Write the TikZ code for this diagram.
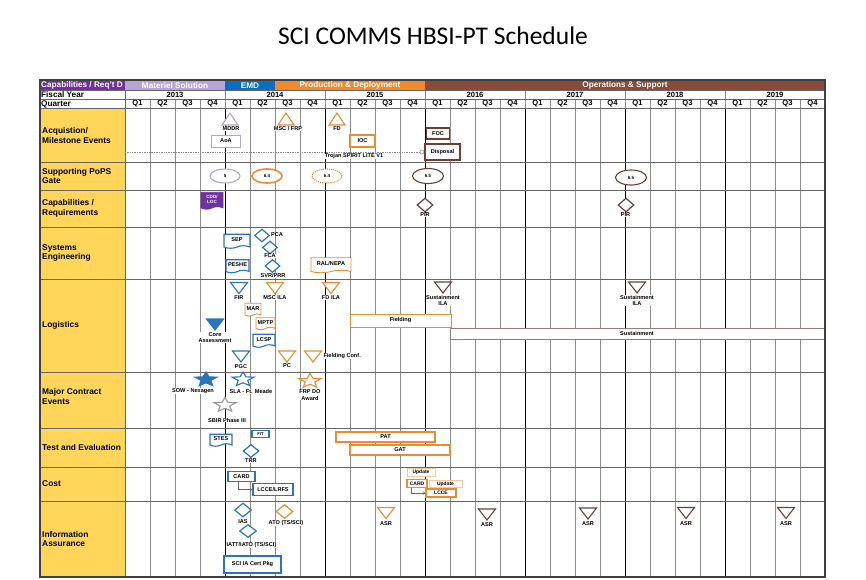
\documentclass[tikz,border=0pt]{standalone}
\usepackage{fontspec}
\setmainfont{Liberation Sans}
\newfontfamily\titlefont{Carlito}
\usetikzlibrary{shapes.geometric,shapes.symbols,arrows.meta}

\definecolor{capPurple}{HTML}{7030A0}
\definecolor{msPurple}{HTML}{B8A5D8}
\definecolor{emdBlue}{HTML}{0B6FC1}
\definecolor{pdOrange}{HTML}{F08A2C}
\definecolor{osBrown}{HTML}{8A4B3B}
\definecolor{rowYellow}{HTML}{FFD65A}
\definecolor{lnBlue}{HTML}{2A74BC}
\definecolor{lnOrange}{HTML}{EC8B30}
\definecolor{lnBrown}{HTML}{6E3F33}
\definecolor{lnPurple}{HTML}{B3A5D3}
\definecolor{updOrange}{HTML}{F6C89C}

% milestone triangles (point down / point up)
\newcommand{\msdown}[2][]{\draw[#1] (#2) +(-8.5,-5.5) -- +(8.5,-5.5) -- +(0,5.5) -- cycle;}
\newcommand{\msup}[2][]{\draw[#1] (#2) +(-8,6) -- +(8,6) -- +(0,-6) -- cycle;}

\tikzset{
  shp/.style={fill=white, line width=1.1pt},
  gridq/.style={draw=black!45, line width=0.8pt},
  gridy/.style={draw=black, line width=0.9pt},
  rowsep/.style={draw=black!60, line width=0.9pt},
  hdr/.style={font=\bfseries\fontsize{8.2}{9}\selectfont, inner sep=0pt},
  qlbl/.style={font=\bfseries\fontsize{7.6}{8}\selectfont, inner sep=0pt},
  rowlbl/.style={font=\bfseries\fontsize{8.4}{9.6}\selectfont, align=left, anchor=west, inner sep=0pt},
  lbl/.style={font=\bfseries\fontsize{5.6}{6.2}\selectfont, fill=white, inner sep=0.3pt, align=center},
  evbox/.style={draw, fill=white, line width=1.1pt, inner sep=0pt, font=\bfseries\fontsize{5.6}{6.2}\selectfont},
  docbox/.style={evbox, tape, tape bend top=none, tape bend bottom=in and out, tape bend height=2.5pt},
  gate/.style={ellipse, draw, fill=white, line width=1.1pt, minimum width=30, minimum height=14, inner sep=0pt, font=\bfseries\fontsize{4.5}{5}\selectfont},
  review/.style={diamond, draw, fill=white, line width=1.2pt, minimum width=16, minimum height=14, inner sep=0pt},
  award/.style={star, star points=5, star point ratio=2.3, minimum size=23, inner sep=0pt, draw, line width=1.1pt, fill=white, yscale=0.66},
  costarrow/.style={-{Straight Barb[length=2.2pt, width=3pt]}, line width=0.5pt, draw=black!60}
}

\begin{document}
\begin{tikzpicture}[x=1pt, y=-1pt]
\useasboundingbox (0,0) rectangle (866,579);

% title
\node[font=\titlefont\fontsize{25.5}{30}\selectfont] (title) at (433,36) {SCI COMMS HBSI-PT Schedule};

% phase band
\fill[capPurple] (40,80) rectangle (125,90.5);
\fill[msPurple] (125,80) rectangle (225,90.5);
\fill[emdBlue] (225,80) rectangle (275,90.5);
\fill[pdOrange] (275,80) rectangle (425,90.5);
\fill[osBrown] (425,80) rectangle (825,90.5);
\node[hdr, white, anchor=west] (capreq) at (41,85.5) {Capabilities / Req't D};
\node[hdr, white] (matsol) at (175,85.5) {Materiel Solution};
\node[hdr, white] (emd) at (250,85.5) {EMD};
\node[hdr, white] (proddep) at (350,85.5) {Production \& Deployment};
\node[hdr, white] (opsup) at (625,85.5) {Operations \& Support};

% yellow row labels column
\fill[rowYellow] (40,108.5) rectangle (125,577);

% grid
\foreach \x in {150,175,...,800}
  \draw[gridq] (\x,99) -- (\x,577);
\foreach \x in {225,325,...,725} {
  \draw[gridq] (\x,90.5) -- (\x,99);
  \draw[gridy] (\x,108.5) -- (\x,577);
}
\foreach \y in {90.5,99,108.5,162,190,227,279,372,428,467,501}
  \draw[rowsep] (40,\y) -- (825,\y);
\draw[rowsep] (125,90.5) -- (125,577);

% fiscal years and quarters
\node[hdr, anchor=west] (fylbl) at (41,95) {Fiscal Year};
\node[hdr, anchor=west] (qlbl) at (41,104) {Quarter};
\foreach \yr [count=\i from 0] in {2013,...,2019} {
  \node[qlbl] (fy\yr) at (175+100*\i,95) {\yr};
  \foreach \q in {1,...,4}
    \node[qlbl] (q\yr\q) at (112.5+100*\i+25*\q,104) {Q\q};
}

% row labels
\node[rowlbl] (acq) at (42,135.5) {Acquistion/\\Milestone Events};
\node[rowlbl] (pops) at (42,176) {Supporting PoPS\\Gate};
\node[rowlbl] (capab) at (42,208.5) {Capabilities /\\Requirements};
\node[rowlbl] (syseng) at (42,253) {Systems\\Engineering};
\node[rowlbl] (logi) at (42,325.5) {Logistics};
\node[rowlbl] (mce) at (42,396.5) {Major Contract\\Events};
\node[rowlbl] (te) at (42,447.5) {Test and Evaluation};
\node[rowlbl] (cost) at (42,484) {Cost};
\node[rowlbl] (ia) at (42,539) {Information\\Assurance};

% Acquisition / milestone events
\coordinate (trojanstart) at (125,152);
\node[circle, draw=black!45, fill=white, line width=0.6pt, minimum size=4, inner sep=0pt] (trojanend) at (422,152) {};
\draw[black!45, densely dotted, line width=0.7pt] (trojanstart) -- (trojanend);
\node[lbl] (trojan) at (354,156.5) {Trojan SPIRIT LITE V1};
\msup[shp, draw=lnPurple]{230,119}
\node[lbl] (mddr) at (231,129) {MDDR};
\node[evbox, draw=lnPurple, line width=0.8pt, minimum width=29, minimum height=12] (aoa) at (226,141) {AoA};
\msup[shp, draw=lnOrange]{286,119}
\node[lbl] (mscfrp) at (288,128.5) {MSC / FRP};
\msup[shp, draw=lnOrange]{337,119}
\node[lbl] (fd) at (337,128.5) {FD};
\node[evbox, draw=lnOrange, line width=1.5pt, minimum width=25, minimum height=12] (ioc) at (362.5,141) {IOC};
\node[evbox, draw=lnBrown, minimum width=23, minimum height=11] (foc) at (438,133.5) {FOC};
\node[evbox, draw=lnBrown, minimum width=35, minimum height=16] (disposal) at (442.5,152) {Disposal};

% PoPS gates
\node[gate, draw=lnPurple] (gate5) at (225,176) {5};
\node[gate, draw=lnOrange, line width=1.6pt] (gate64) at (267,176) {6.4};
\node[gate, draw=lnOrange, densely dotted] (gate64b) at (327,176) {6.4};
\node[gate, draw=lnBrown, minimum width=31, minimum height=15] (gate65) at (428,176) {6.5};
\node[gate, draw=lnBrown, minimum width=31, minimum height=15] (gate65b) at (631,177.5) {6.5};

% capabilities / requirements
\node[docbox, draw=capPurple, fill=capPurple, text=white, line width=0.6pt, minimum width=22, minimum height=17, align=center, font=\bfseries\fontsize{4.6}{5}\selectfont] (cddloc) at (212,199.5) {CDD/\\LOC};
\node[review, draw=lnBrown] (pir1) at (425,205) {};
\node[lbl] (pir1l) at (425,215) {PIR};
\node[review, draw=lnBrown] (pir2) at (626,205) {};
\node[lbl] (pir2l) at (625.5,215) {PIR};

% systems engineering
\node[docbox, draw=lnBlue, minimum width=26, minimum height=14] (sep) at (237,240) {SEP};
\node[review, draw=lnBlue, minimum width=15, minimum height=13] (pca) at (262,235.5) {};
\node[lbl, fill=none] (pcal) at (277,234.5) {PCA};
\node[review, draw=lnBlue, minimum width=15, minimum height=13] (fca) at (270,247.5) {};
\node[lbl] (fcal) at (270,256) {FCA};
\node[docbox, draw=lnBlue, minimum width=23, minimum height=13] (peshe) at (237.5,265) {PESHE};
\node[review, draw=lnBlue, minimum width=15, minimum height=13] (svrprr) at (272.5,266) {};
\node[lbl] (svrprrl) at (273,275.5) {SVR/PRR};
\node[docbox, draw=lnOrange, line width=0.9pt, minimum width=40, minimum height=15] (ralnepa) at (331,264) {RAL/NEPA};

% logistics
\msdown[shp, draw=lnBlue]{239,288}
\node[lbl] (fir) at (239,297.5) {FIR};
\msdown[shp, draw=lnOrange]{275,288}
\node[lbl] (mscila) at (275,297.5) {MSC ILA};
\msdown[shp, draw=lnOrange]{331,288}
\node[lbl] (fdila) at (331,297.5) {FD ILA};
\msdown[shp, draw=lnBrown]{443,287.5}
\node[lbl] (sila1) at (443,300.5) {Sustainment\\ILA};
\msdown[shp, draw=lnBrown]{637,287.5}
\node[lbl] (sila2) at (637,300.5) {Sustainment\\ILA};
\node[docbox, draw=lnOrange, line width=0.9pt, minimum width=16, minimum height=13] (mar) at (253,308.5) {MAR};
\node[docbox, draw=lnOrange, line width=0.9pt, minimum width=19, minimum height=12] (mptp) at (265.5,322.5) {MPTP};
\node[docbox, draw=lnBlue, minimum width=22, minimum height=13] (lcsp) at (264,339.5) {LCSP};
\msdown[draw=lnBlue, fill=lnBlue, line width=1.1pt]{215,324.5}
\node[lbl] (corea) at (215,337.5) {Core\\Assessment};
\node[evbox, draw=lnOrange, line width=0.9pt, minimum width=101, minimum height=13] (fielding) at (400.5,320.5) {Fielding};
\node[evbox, draw=lnBrown!70, line width=0.8pt, minimum width=374, minimum height=11] (sustain) at (637,333.5) {Sustainment};
\msdown[shp, draw=lnBlue]{241,356.5}
\node[lbl] (pgc) at (241,366.5) {PGC};
\msdown[shp, draw=lnOrange]{287,356.5}
\node[lbl] (pc) at (287,366) {PC};
\msdown[shp, draw=lnOrange]{313,356.5}
\node[lbl, anchor=west] (fconf) at (323,356) {Fielding Conf.};

% major contract events
\node[award, draw=lnBlue, fill=lnBlue] (sow) at (206,379.5) {};
\node[lbl] (sowl) at (193,391) {SOW - Nexagen};
\node[award, draw=lnBlue] (sla) at (243,379.5) {};
\node[lbl] (slal) at (251,391.5) {SLA - Ft. Meade};
\node[award, draw=lnOrange] (frpdo) at (310,381) {};
\node[lbl] (frpdol) at (310,395) {FRP DO\\Award};
\node[award, draw=black!40] (sbir) at (225,405) {};
\node[lbl] (sbirl) at (227,420) {SBIR Phase III};

% test and evaluation
\node[docbox, draw=lnBlue, minimum width=22, minimum height=12] (stes) at (221,439) {STES};
\node[evbox, draw=lnBlue, line width=1.4pt, minimum width=17, minimum height=6.5, font=\bfseries\fontsize{4.2}{4.5}\selectfont] (fit) at (260.5,434) {FIT};
\node[review, draw=lnBlue, minimum height=13] (trr) at (251,451) {};
\node[lbl] (trrl) at (251,460.5) {TRR};
\node[evbox, draw=lnOrange, line width=1.5pt, minimum width=99, minimum height=10] (pat) at (385.5,437) {PAT};
\node[evbox, draw=lnOrange, line width=1.5pt, minimum width=100, minimum height=10] (gat) at (400,450) {GAT};

% cost
\node[evbox, draw=lnBlue, minimum width=27, minimum height=9.5] (card) at (241.5,476.5) {CARD};
\node[evbox, draw=lnBlue, minimum width=40, minimum height=11.5] (lcce) at (273,489.5) {LCCE/LRFS};
\draw[costarrow] ([xshift=-3.5pt]card.south) |- (lcce.west);
\node[evbox, draw=updOrange, line width=0.8pt, minimum width=28, minimum height=7.5, font=\bfseries\fontsize{5}{5.5}\selectfont] (upd1) at (421,472.5) {Update};
\node[evbox, draw=lnOrange, line width=1.2pt, minimum width=20, minimum height=7.5, font=\bfseries\fontsize{5}{5.5}\selectfont] (card2) at (417,483.5) {CARD};
\node[evbox, draw=updOrange, line width=0.8pt, minimum width=33, minimum height=6.5, font=\bfseries\fontsize{5}{5.5}\selectfont] (upd2) at (445.5,484) {Update};
\node[evbox, draw=lnOrange, line width=1.5pt, minimum width=30, minimum height=8, font=\bfseries\fontsize{5}{5.5}\selectfont] (lcce2) at (441,493) {LCCE};
\draw[costarrow] ([xshift=-6pt]card2.south) |- (lcce2.west);

% information assurance
\node[review, draw=lnBlue, minimum width=17] (ias) at (243,510) {};
\node[lbl] (iasl) at (243,522) {IAS};
\node[review, draw=lnOrange, minimum width=17] (ato) at (284.5,511.5) {};
\node[lbl] (atol) at (286,523) {ATO (TS/SCI)};
\node[review, draw=lnBlue, minimum width=17, minimum height=13] (iatt) at (248,531) {};
\node[lbl] (iattl) at (251.5,545) {IATT/IATO (TS/SCI)};
\node[evbox, draw=lnBlue, minimum width=57, minimum height=17] (sciia) at (252.5,564.5) {SCI IA Cert Pkg};
\msdown[shp, draw=lnOrange]{386,513}
\node[lbl] (asr0) at (386,524) {ASR};
\foreach \x/\y [count=\i] in {487/514.5, 588/513.5, 686/513, 786/513} {
  \msdown[shp, draw=lnBrown]{\x,\y}
  \node[lbl] (asr\i) at (\x,\y+10.5) {ASR};
}

% outer frame
\draw[black!75, line width=1.4pt] (40,80) rectangle (825,577);
\end{tikzpicture}
\end{document}
